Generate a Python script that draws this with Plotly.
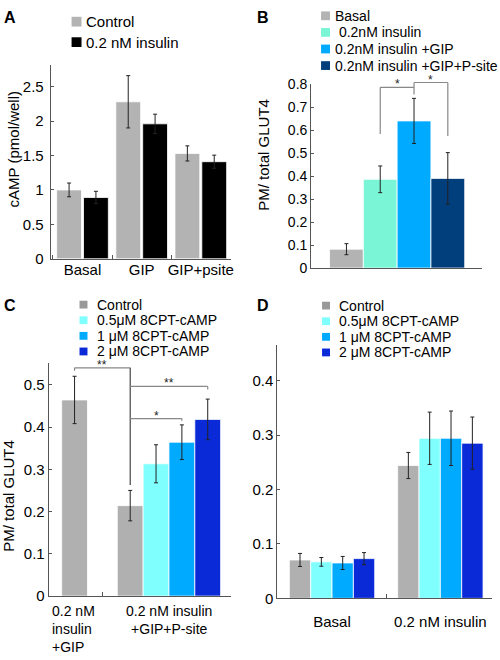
import plotly.graph_objects as go

W, H = 500, 660
FONT = "Arial, Liberation Sans, Helvetica, sans-serif"

# ---------------- data ----------------
# Panel A
A_groups = ["Basal", "GIP", "GIP+psite"]
A_series = ["Control", "0.2 nM insulin"]
A_colors = ["#b3b3b3", "#000000"]
A_control = [1.00, 2.28, 1.53]
A_control_err = [0.10, 0.38, 0.11]
A_insulin = [0.89, 1.96, 1.41]
A_insulin_err = [0.09, 0.14, 0.095]
A_yticks = [0, 0.5, 1, 1.5, 2, 2.5]

# Panel B
B_series = ["Basal", " 0.2nM insulin", "0.2nM insulin +GIP", "0.2nM insulin +GIP+P-site"]
B_colors = ["#b3b3b3", "#7af5d6", "#00aaff", "#003f7c"]
B_values = [0.082, 0.386, 0.640, 0.390]
B_errors = [0.024, 0.058, 0.098, 0.112]
B_yticks = [0, 0.1, 0.2, 0.3, 0.4, 0.5, 0.6, 0.7, 0.8]

# Panel C
C_groups = ["0.2 nM<br>insulin<br>+GIP", "0.2 nM insulin<br>+GIP+P-site"]
CD_series = ["Control", "0.5\u03bcM 8CPT-cAMP", "1 \u03bcM 8CPT-cAMP", "2 \u03bcM 8CPT-cAMP"]
CD_colors = ["#b0b0b0", "#80ffff", "#00aaff", "#0a2ad8"]
CD_legend_colors = ["#999999", "#80ffff", "#00aaff", "#0a2ad8"]
C_values = [[0.464, 0.214], [None, 0.313], [None, 0.364], [None, 0.418]]
C_errors = [[0.056, 0.036], [None, 0.045], [None, 0.041], [None, 0.048]]
C_yticks = [0, 0.1, 0.2, 0.3, 0.4, 0.5]

# Panel D
D_groups = ["Basal", "0.2 nM insulin"]
D_values = [[0.0705, 0.244], [0.067, 0.294], [0.065, 0.294], [0.073, 0.285]]
D_errors = [[0.012, 0.024], [0.008, 0.048], [0.012, 0.050], [0.011, 0.048]]
D_yticks = [0, 0.1, 0.2, 0.3, 0.4]

# ---------------- helpers ----------------
fig = go.Figure()

def px_x(p):
    return p / W

def px_y(p):
    return 1 - p / H

def add_bars(xa, ya, x, y, err, color, offset, width):
    fig.add_trace(go.Bar(
        x=x, y=y, xaxis=xa, yaxis=ya, offset=offset, width=width,
        marker=dict(color=color, line=dict(color="white", width=0.8)),
        error_y=dict(type="data", array=err, color="#222222", thickness=1, width=2),
        showlegend=False, hoverinfo="x+y"))

def legend(names, colors, x_sq, x_txt, rows, sq, fsize):
    for n, c, yy in zip(names, colors, rows):
        fig.add_shape(type="rect", xref="paper", yref="paper",
                      x0=px_x(x_sq), x1=px_x(x_sq + sq),
                      y0=px_y(yy + sq / 2), y1=px_y(yy - sq / 2),
                      fillcolor=c, line_width=0)
        fig.add_annotation(text=n, xref="paper", yref="paper", x=px_x(x_txt), y=px_y(yy),
                           xanchor="left", yanchor="middle", showarrow=False, borderpad=0,
                           font=dict(size=fsize, family=FONT, color="black"))

def label(text, x, y, size=15, bold=False, angle=0, xanchor="center", yanchor="middle", align="center"):
    fig.add_annotation(text=("<b>%s</b>" % text) if bold else text, xref="paper", yref="paper",
                       x=px_x(x), y=px_y(y), xanchor=xanchor, yanchor=yanchor, align=align,
                       textangle=angle, showarrow=False, borderpad=0,
                       font=dict(size=size, family=FONT, color="black"))

def seg(xref, yref, x0, y0, x1, y1, color="#888888", w=1.2):
    fig.add_shape(type="line", xref=xref, yref=yref, x0=x0, y0=y0, x1=x1, y1=y1,
                  line=dict(color=color, width=w))

def star(xref, yref, x, y, text):
    fig.add_annotation(text=text, xref=xref, yref=yref, x=x, y=y, xanchor="center",
                       yanchor="bottom", yshift=-6, showarrow=False,
                       font=dict(size=12, family=FONT, color="#222222"))

axis_common = dict(showline=True, linecolor="#555555", linewidth=1, showgrid=False,
                   zeroline=False, tickcolor="#555555", tickfont=dict(size=15, color="black"))

# ---------------- Panel A ----------------
A_w = 0.42
A_offsets = [-0.437, 0.017]
for vals, errs, col, off in zip([A_control, A_insulin], [A_control_err, A_insulin_err], A_colors, A_offsets):
    add_bars("x", "y", A_groups, vals, errs, col, off, A_w)

# ---------------- Panel B ----------------
B_w = 0.2267
B_pos = [0]
B_range = [-0.577, 0.570]
B_ytop = 0.8
B_dom = [0.5962, 0.8818]
B_offsets = [(i - 2) * B_w for i in range(len(B_series))]
for v, e, col, off in zip(B_values, B_errors, B_colors, B_offsets):
    add_bars("x2", "y2", B_pos, [v], [e], col, off, B_w)

# ---------------- Panel C ----------------
C_w = 0.2737
C_pos = list(range(len(C_groups)))
C_offsets = [[-C_w / 2, -2 * C_w], [None, -C_w], [None, 0.0], [None, C_w]]
for i in range(len(CD_series)):
    for g in range(len(C_groups)):
        if C_values[i][g] is None:
            continue
        add_bars("x3", "y3", [C_pos[g]], [C_values[i][g]], [C_errors[i][g]], CD_colors[i],
                 C_offsets[i][g], C_w)

# ---------------- Panel D ----------------
D_w = 0.197
D_offsets = [(i - 2) * D_w for i in range(len(CD_series))]
for i in range(len(CD_series)):
    add_bars("x4", "y4", D_groups, D_values[i], D_errors[i], CD_colors[i], D_offsets[i], D_w)

# ---------------- layout ----------------
C_range = [-0.274, 1.653]
C_boundary = ((C_pos[0] + C_w / 2) + (C_pos[1] - 2 * C_w)) / 2

fig.update_layout(
    width=W, height=H, margin=dict(l=0, r=0, t=0, b=0),
    paper_bgcolor="white", plot_bgcolor="white", barmode="overlay", showlegend=False,
    font=dict(family=FONT, size=15, color="black"),
    xaxis=dict(axis_common, domain=[0.102, 0.464], range=[-0.538, 2.504], type="category",
               anchor="y", ticks="inside", ticklen=4, tickson="boundaries", tickangle=0,
               ticklabelstandoff=-3),
    yaxis=dict(axis_common, domain=[0.6106, 0.9121], range=[0, 2.82], anchor="x",
               tickvals=A_yticks, ticks="inside", ticklen=3, ticklabelstandoff=3),
    xaxis2=dict(axis_common, domain=[0.626, 0.97], range=B_range, anchor="y2",
                showticklabels=False, ticks=""),
    yaxis2=dict(axis_common, domain=B_dom, range=[0, B_ytop], anchor="x2",
                tickvals=B_yticks, ticks="inside", ticklen=3, tickfont=dict(size=14, color="black")),
    xaxis3=dict(axis_common, domain=[0.098, 0.464], range=C_range, anchor="y3",
                tickvals=[C_boundary], ticktext=[""], ticks="inside", ticklen=4),
    yaxis3=dict(axis_common, domain=[0.0868, 0.4485], range=[0, 0.551], anchor="x3",
                tickvals=C_yticks, ticks="inside", ticklen=3),
    xaxis4=dict(axis_common, domain=[0.558, 0.99], range=[-0.505, 1.477], type="category",
                anchor="y4", ticks="inside", ticklen=4, tickson="boundaries", tickangle=0,
                ticklabelstandoff=10),
    yaxis4=dict(axis_common, domain=[0.0833, 0.4773], range=[0, 0.466], anchor="x4",
                tickvals=D_yticks, ticks="inside", ticklen=3),
)

# ---------------- panel letters, titles, legends ----------------
label("A", 3, 10, size=16, bold=True, xanchor="left")
label("B", 258, 10, size=16, bold=True, xanchor="left")
label("C", 3, 305, size=16, bold=True, xanchor="left")
label("D", 258, 305, size=16, bold=True, xanchor="left")

label("cAMP (pmol/well)", 14, 145, size=15, angle=-90)
label("PM/ total GLUT4", 265, 150, size=15, angle=-90)
label("PM/ total GLUT4", 9, 500, size=15, angle=-90)

legend(A_series, A_colors, 72, 86, [14, 35], 10, 15)
legend(B_series, B_colors, 323, 336, [8, 25, 42, 59], 9, 14)
legend(CD_series, CD_legend_colors, 80, 97, [304, 320, 336, 352], 8, 14)
legend(CD_series, CD_legend_colors, 324, 340, [305, 321, 337, 353], 8, 14)

# C category labels (left-aligned first label as in the figure)
fig.add_annotation(text=C_groups[0], xref="paper", yref="paper", x=px_x(51), y=px_y(609),
                   xanchor="left", yanchor="top", align="left", showarrow=False, borderpad=0,
                   font=dict(size=14, family=FONT, color="black"))
fig.add_annotation(text=C_groups[1], x=C_pos[1], xref="x3", yref="paper", y=px_y(609),
                   xanchor="center", yanchor="top", align="center", showarrow=False, borderpad=0,
                   font=dict(size=14, family=FONT, color="black"))

# ---------------- significance brackets ----------------
# Panel B: drawn in paper coordinates so they may rise above the axis top
def bxp(v):
    f = (v - B_range[0]) / (B_range[1] - B_range[0])
    return 0.626 + f * (0.97 - 0.626)

def byp(v):
    return B_dom[0] + v / B_ytop * (B_dom[1] - B_dom[0])

Bc = [B_pos[0] + off + B_w / 2 for off in B_offsets]
xr, yr = "paper", "paper"
seg(xr, yr, bxp(Bc[1]), byp(0.583), bxp(Bc[1]), byp(0.786))
seg(xr, yr, bxp(Bc[1]), byp(0.786), bxp(Bc[2]), byp(0.786))
seg(xr, yr, bxp(Bc[2]), byp(0.755), bxp(Bc[2]), byp(0.807))
seg(xr, yr, bxp(Bc[2]), byp(0.807), bxp(Bc[3]), byp(0.807))
seg(xr, yr, bxp(Bc[3]), byp(0.807), bxp(Bc[3]), byp(0.574))
star("paper", "paper", bxp((Bc[1] + Bc[2]) / 2), byp(0.786), "*")
star("paper", "paper", bxp((Bc[2] + Bc[3]) / 2), byp(0.807), "*")

# Panel C
c_gip = C_pos[0]
c_ctrl = C_pos[1] - 2 * C_w + C_w / 2
c_1 = C_pos[1] + 0.0 + C_w / 2
c_2 = C_pos[1] + C_w + C_w / 2
seg("x3", "y3", c_gip, 0.533, c_gip, 0.540)
seg("x3", "y3", c_gip, 0.540, c_ctrl, 0.540)
seg("x3", "y3", c_ctrl, 0.540, c_ctrl, 0.263, color="#444444")
seg("x3", "y3", c_ctrl, 0.496, c_2, 0.496)
seg("x3", "y3", c_2, 0.496, c_2, 0.489)
seg("x3", "y3", c_ctrl, 0.420, c_1, 0.420)
seg("x3", "y3", c_1, 0.420, c_1, 0.415)
star("x3", "y3", (c_gip + c_ctrl) / 2, 0.540, "**")
star("x3", "y3", (c_ctrl + c_2) / 2, 0.496, "**")
star("x3", "y3", (c_ctrl + c_1) / 2, 0.420, "*")

fig.write_html("out.html", config={"displayModeBar": False},
               post_script="document.body.style.margin='0px';")
